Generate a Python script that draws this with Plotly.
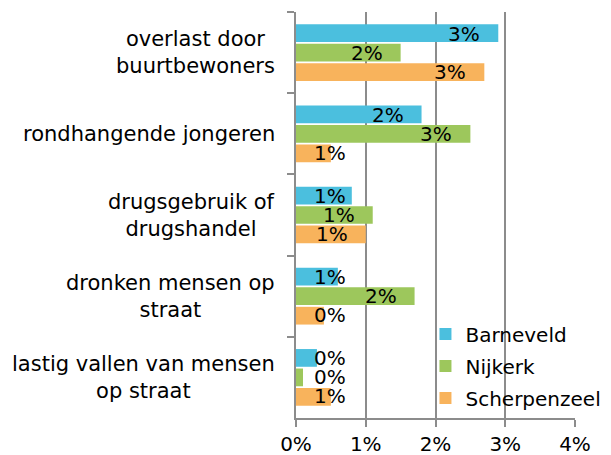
import plotly.graph_objects as go

categories = [
    "overlast door<br>buurtbewoners",
    "rondhangende jongeren",
    "drugsgebruik of<br>drugshandel",
    "dronken mensen op<br>straat",
    "lastig vallen van mensen<br>op straat",
]
series_names = ["Barneveld", "Nijkerk", "Scherpenzeel"]
barneveld = [2.9, 1.8, 0.8, 0.6, 0.3]
nijkerk = [1.5, 2.5, 1.1, 1.7, 0.1]
scherpenzeel = [2.7, 0.5, 1.0, 0.4, 0.5]
barneveld_labels = ["3%", "2%", "1%", "1%", "0%"]
nijkerk_labels = ["2%", "3%", "1%", "2%", "0%"]
scherpenzeel_labels = ["3%", "1%", "1%", "0%", "1%"]
x_tick_values = [0, 1, 2, 3, 4]
x_tick_labels = ["0%", "1%", "2%", "3%", "4%"]

colors = ["#4BBFDE", "#9DC75C", "#F8B35C"]
FONT = "DejaVu Sans"
series_values = [barneveld, nijkerk, scherpenzeel]
series_labels = [barneveld_labels, nijkerk_labels, scherpenzeel_labels]
slot_shift = [19, 0, -19]

fig = go.Figure()
for i, name in enumerate(series_names):
    fig.add_trace(go.Bar(
        y=categories, x=series_values[i], name=name, orientation="h",
        marker=dict(color=colors[i], line=dict(width=0)),
        legendgroup=name, hoverinfo="skip",
    ))

annotations = []
for i in range(3):
    for cat, v, lab in zip(categories, series_values[i], series_labels[i]):
        if v >= 0.95:
            annotations.append(dict(x=v, y=cat, xref="x", yref="y", text=lab,
                                    xanchor="right", xshift=-16, yshift=slot_shift[i],
                                    showarrow=False, font=dict(family=FONT, size=20, color="#000")))
        else:
            annotations.append(dict(x=0, y=cat, xref="x", yref="y", text=lab,
                                    xanchor="left", xshift=16, yshift=slot_shift[i],
                                    showarrow=False, font=dict(family=FONT, size=20, color="#000")))

for cat in categories:
    annotations.append(dict(x=0, y=cat, xref="paper", yref="y", text=cat,
                            xanchor="right", align="center", xshift=-19, yshift=0,
                            showarrow=False, font=dict(family=FONT, size=21, color="#000")))

fig.update_layout(
    width=603, height=447,
    margin=dict(l=288, r=36, t=4, b=37, autoexpand=False),
    barmode="group", bargap=0.28, bargroupgap=0.09,
    plot_bgcolor="white", paper_bgcolor="white",
    font=dict(family=FONT, size=20, color="#000"),
    showlegend=True,
    legend=dict(x=0.464, y=0.255, xanchor="left", yanchor="top",
                bgcolor="rgba(0,0,0,0)", tracegroupgap=3,
                font=dict(family=FONT, size=20, color="#000")),
    annotations=annotations,
    shapes=[dict(type="rect", xref="paper", yref="paper", x0=0.52, x1=1.2,
                 y0=0.012, y1=0.249, fillcolor="white", line=dict(width=0),
                 layer="between")],
)
fig.update_xaxes(range=[0, 4], tickvals=x_tick_values, ticktext=x_tick_labels,
                 showgrid=True, gridcolor="#8C8C8C", gridwidth=2, zeroline=False,
                 showline=True, linecolor="#8C8C8C", linewidth=2,
                 ticks="outside", ticklen=7, tickwidth=2, tickcolor="#8C8C8C",
                 tickfont=dict(family=FONT, size=20, color="#000"))
fig.update_yaxes(autorange="reversed", showticklabels=False, tickson="boundaries",
                 ticks="outside", ticklen=7, tickwidth=2, tickcolor="#8C8C8C",
                 showline=True, linecolor="#8C8C8C", linewidth=2, showgrid=False,
                 zeroline=False)

fig.write_html("out.html")
